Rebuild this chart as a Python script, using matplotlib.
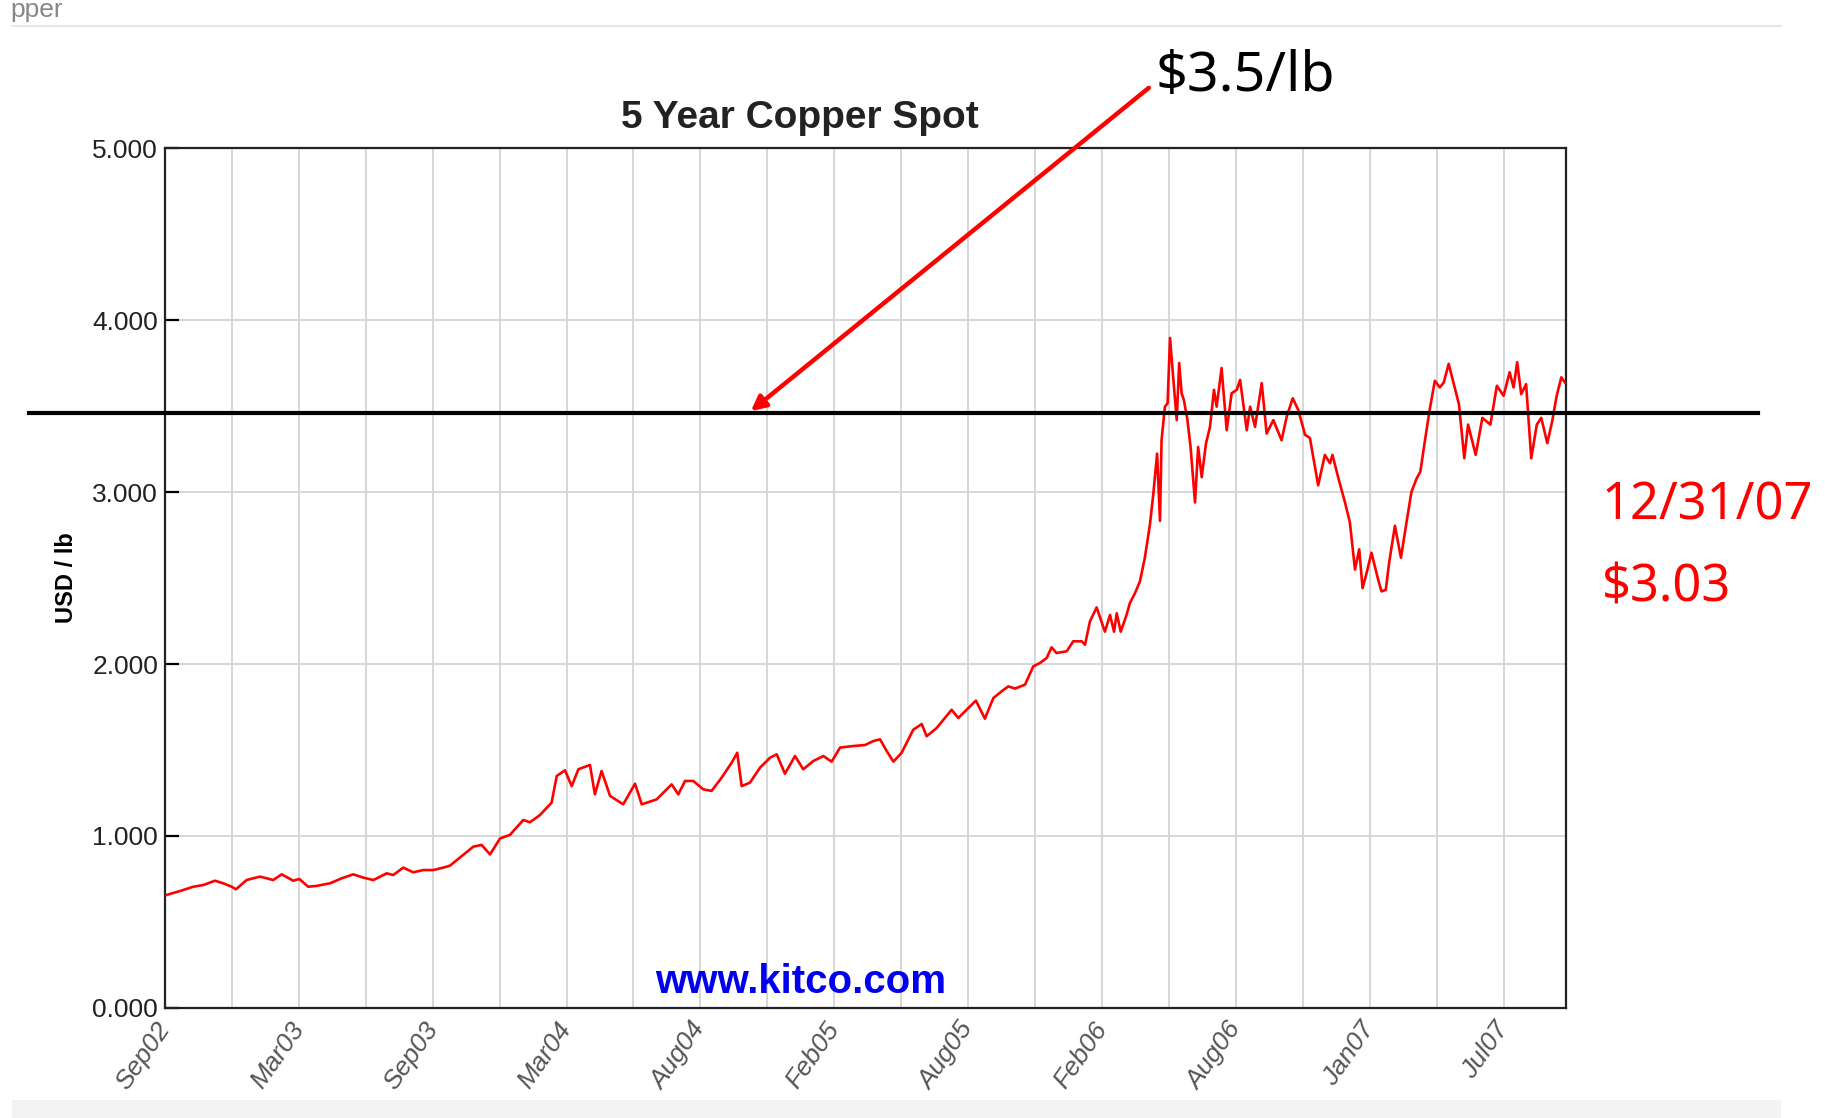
import matplotlib
matplotlib.use("Agg")
import matplotlib.pyplot as plt
from matplotlib.patches import Rectangle
from matplotlib.lines import Line2D

# -----------------------------
#  Data
# -----------------------------
# months since Sep 2002
months = [
    0.07, 0.67, 1.27, 1.72, 2.24, 2.61, 2.99, 3.18, 3.66, 4.26, 4.85, 5.23, 5.75, 6.02,
    6.42, 6.80, 7.40, 7.92, 8.44, 8.89, 9.34, 9.94, 10.23, 10.68, 11.13, 11.58, 12.03,
    12.47, 12.77, 13.37, 13.82, 14.19, 14.57, 15.02, 15.46, 16.06, 16.36, 16.81,
    17.33, 17.56, 17.93, 18.23, 18.53, 19.05, 19.27, 19.57, 19.95, 20.54, 21.07, 21.37,
    22.04, 22.71, 23.01, 23.31, 23.68, 24.13, 24.50, 24.95, 25.40, 25.65, 25.85, 26.22,
    26.67, 27.12, 27.42, 27.79, 28.24, 28.61, 29.06, 29.51, 29.88, 30.26, 30.85, 31.38,
    31.75, 32.05, 32.35, 32.65, 33.02,
    33.54, 33.92, 34.14, 34.59, 35.26, 35.56, 35.93, 36.35, 36.75, 37.13, 37.50, 37.80,
    38.10, 38.55, 38.92, 39.22, 39.52, 39.74, 39.96, 40.42, 40.71, 41.09, 41.24, 41.46,
    41.76,
    42.13, 42.36, 42.54, 42.66, 42.84, 43.10, 43.25, 43.48, 43.70, 43.92, 44.15, 44.30,
    44.47, 44.60, 44.67, 44.82, 44.94, 45.05, 45.20, 45.35, 45.46, 45.57, 45.67, 45.82,
    45.97, 46.17, 46.31, 46.47, 46.66, 46.84, 47.02, 47.14, 47.36, 47.59, 47.81, 48.04,
    48.19, 48.49, 48.64, 48.86, 49.16, 49.38, 49.68, 50.05, 50.28, 50.55, 50.80,
    51.10, 51.32, 51.69, 51.99, 52.22, 52.33, 52.60, 52.89, 53.11, 53.34, 53.53, 53.68,
    53.86, 54.08, 54.38, 54.53, 54.72, 54.87, 55.13, 55.40, 55.65, 55.87, 56.10, 56.27,
    56.47, 56.69, 56.92, 57.14, 57.32, 57.54, 57.77, 58.00, 58.24, 58.41, 58.75, 59.05,
    59.41, 59.70, 60.00, 60.27, 60.45, 60.61, 60.79, 61.01, 61.24, 61.49, 61.69, 61.96,
    62.18, 62.38, 62.59, 62.75,
]
usd_lb = [
    0.657, 0.680, 0.705, 0.715, 0.740, 0.725, 0.705, 0.690, 0.744, 0.764, 0.744, 0.777, 0.740, 0.750,
    0.705, 0.710, 0.725, 0.754, 0.777, 0.758, 0.744, 0.783, 0.773, 0.816, 0.789, 0.802, 0.802,
    0.816, 0.827, 0.890, 0.938, 0.948, 0.893, 0.986, 1.006, 1.093, 1.080, 1.122,
    1.194, 1.349, 1.382, 1.290, 1.388, 1.413, 1.242, 1.378, 1.233, 1.184, 1.304, 1.184,
    1.213, 1.300, 1.242, 1.320, 1.320, 1.271, 1.262, 1.339, 1.426, 1.484, 1.290, 1.310,
    1.397, 1.455, 1.475, 1.362, 1.465, 1.388, 1.436, 1.465, 1.432, 1.514, 1.523, 1.529,
    1.552, 1.562, 1.494, 1.432, 1.484,
    1.618, 1.651, 1.580, 1.628, 1.734, 1.686, 1.734, 1.787, 1.682, 1.802, 1.841, 1.870,
    1.857, 1.880, 1.986, 2.006, 2.035, 2.097, 2.064, 2.074, 2.132, 2.132, 2.112, 2.248,
    2.329,
    2.188, 2.285, 2.188, 2.295, 2.188, 2.285, 2.354, 2.412, 2.480, 2.617, 2.812, 2.988,
    3.223, 2.832, 3.301, 3.496, 3.516, 3.896, 3.652, 3.418, 3.750, 3.574, 3.535, 3.428,
    3.262, 2.939, 3.262, 3.086, 3.281, 3.379, 3.594, 3.496, 3.721, 3.359, 3.574, 3.594,
    3.652, 3.359, 3.496, 3.379, 3.633, 3.340, 3.418, 3.301, 3.438, 3.545, 3.477,
    3.333, 3.314, 3.039, 3.216, 3.167, 3.216, 3.078, 2.941, 2.824, 2.549, 2.667, 2.441,
    2.529, 2.647, 2.490, 2.422, 2.431, 2.588, 2.804, 2.618, 2.824, 3.000, 3.078, 3.118,
    3.294, 3.480, 3.647, 3.608, 3.637, 3.745, 3.627, 3.510, 3.196, 3.392, 3.216, 3.431,
    3.392, 3.618, 3.559, 3.696, 3.608, 3.755, 3.569, 3.627, 3.196, 3.392, 3.431, 3.284,
    3.412, 3.559, 3.667, 3.637,
]

tick_months = [0, 6, 12, 18, 24, 30, 36, 42, 48, 54, 60]
tick_labels = ["Sep02", "Mar03", "Sep03", "Mar04", "Aug04", "Feb05",
               "Aug05", "Feb06", "Aug06", "Jan07", "Jul07"]
grid_months = list(range(0, 63, 3))
y_ticks = [0, 1, 2, 3, 4, 5]

level = 3.46           # the $3.5/lb line
arrow_tip = (26.26, 3.47)
arrow_tail = (44.1, 5.35)

# -----------------------------
#  Figure
# -----------------------------
fig = plt.figure(figsize=(18.25, 11.18), dpi=100)
ax = fig.add_axes([0.0904, 0.0984, 0.7677, 0.7692])

ax.plot(months, usd_lb, color="#ff0000", lw=1.9, zorder=3, solid_joinstyle="round")

ax.set_xlim(0, 62.8)
ax.set_ylim(0, 5)
ax.set_xticks(tick_months)
ax.set_xticklabels(tick_labels, rotation=55, ha="right", va="center",
                   rotation_mode="anchor", fontstyle="italic",
                   color="#555555", fontsize=19, family="Liberation Sans")
ax.set_xticks(grid_months, minor=True)
ax.set_yticks(y_ticks)
ax.set_yticklabels([f"{v:.3f}" for v in y_ticks], fontsize=19,
                   color="#222222", family="Liberation Sans")
ax.tick_params(axis="x", which="both", length=0, pad=12)
ax.tick_params(axis="y", direction="in", length=10, width=1.6, pad=5, color="black")

ax.grid(True, which="both", color="#d4d4d4", lw=1.3, zorder=0)
ax.set_axisbelow(True)
for side in ax.spines.values():
    side.set_color("#222222")
    side.set_linewidth(1.6)

ax.set_ylabel("USD / lb", fontsize=17, fontweight="bold", family="Liberation Sans",
              labelpad=10)

ax.text(0.454, 0.018, "www.kitco.com", transform=ax.transAxes, ha="center",
        va="baseline", color="#0000ee", fontsize=29, fontweight="bold",
        family="Liberation Sans")

fig.text(0.4384, 0.8855, "5 Year Copper Spot", ha="center", va="baseline",
         fontsize=28, fontweight="bold", color="#222222", family="Liberation Sans")

# black level line reaching outside the plot
ax.axhline(level, xmin=-0.097, xmax=1.137, color="black", lw=3, clip_on=False, zorder=4)

# red arrow + labels
ax.annotate("", xy=arrow_tip, xytext=arrow_tail,
            arrowprops=dict(arrowstyle="-|>", color="#ff0000", lw=3.2,
                            mutation_scale=22, shrinkA=0, shrinkB=0),
            annotation_clip=False, zorder=5)
fig.text(0.633, 1 - 91 / 1118, "$3.5/lb", ha="left", va="baseline", fontsize=40,
         color="black", family="Noto Sans")
fig.text(0.8775, 1 - 520 / 1118, "12/31/07", ha="left", va="baseline",
         fontsize=36.5, color="#ff0000", family="Noto Sans")
fig.text(0.8775, 1 - 602 / 1118, "$3.03", ha="left", va="baseline",
         fontsize=36.5, color="#ff0000", family="Noto Sans")

# page decorations from the screenshot
fig.add_artist(Line2D([12 / 1825, 1781 / 1825], [1 - 26 / 1118, 1 - 26 / 1118],
                      color="#e6e6e6", lw=1.5))
fig.add_artist(Rectangle((12 / 1825, 0), (1781 - 12) / 1825, 18 / 1118,
                         facecolor="#f3f3f3", edgecolor="none"))
fig.text(10 / 1825, 1 - 17 / 1118, "pper", ha="left", va="baseline", fontsize=19,
         color="#888888", family="Liberation Sans")

fig.savefig("out.png", dpi=100)
